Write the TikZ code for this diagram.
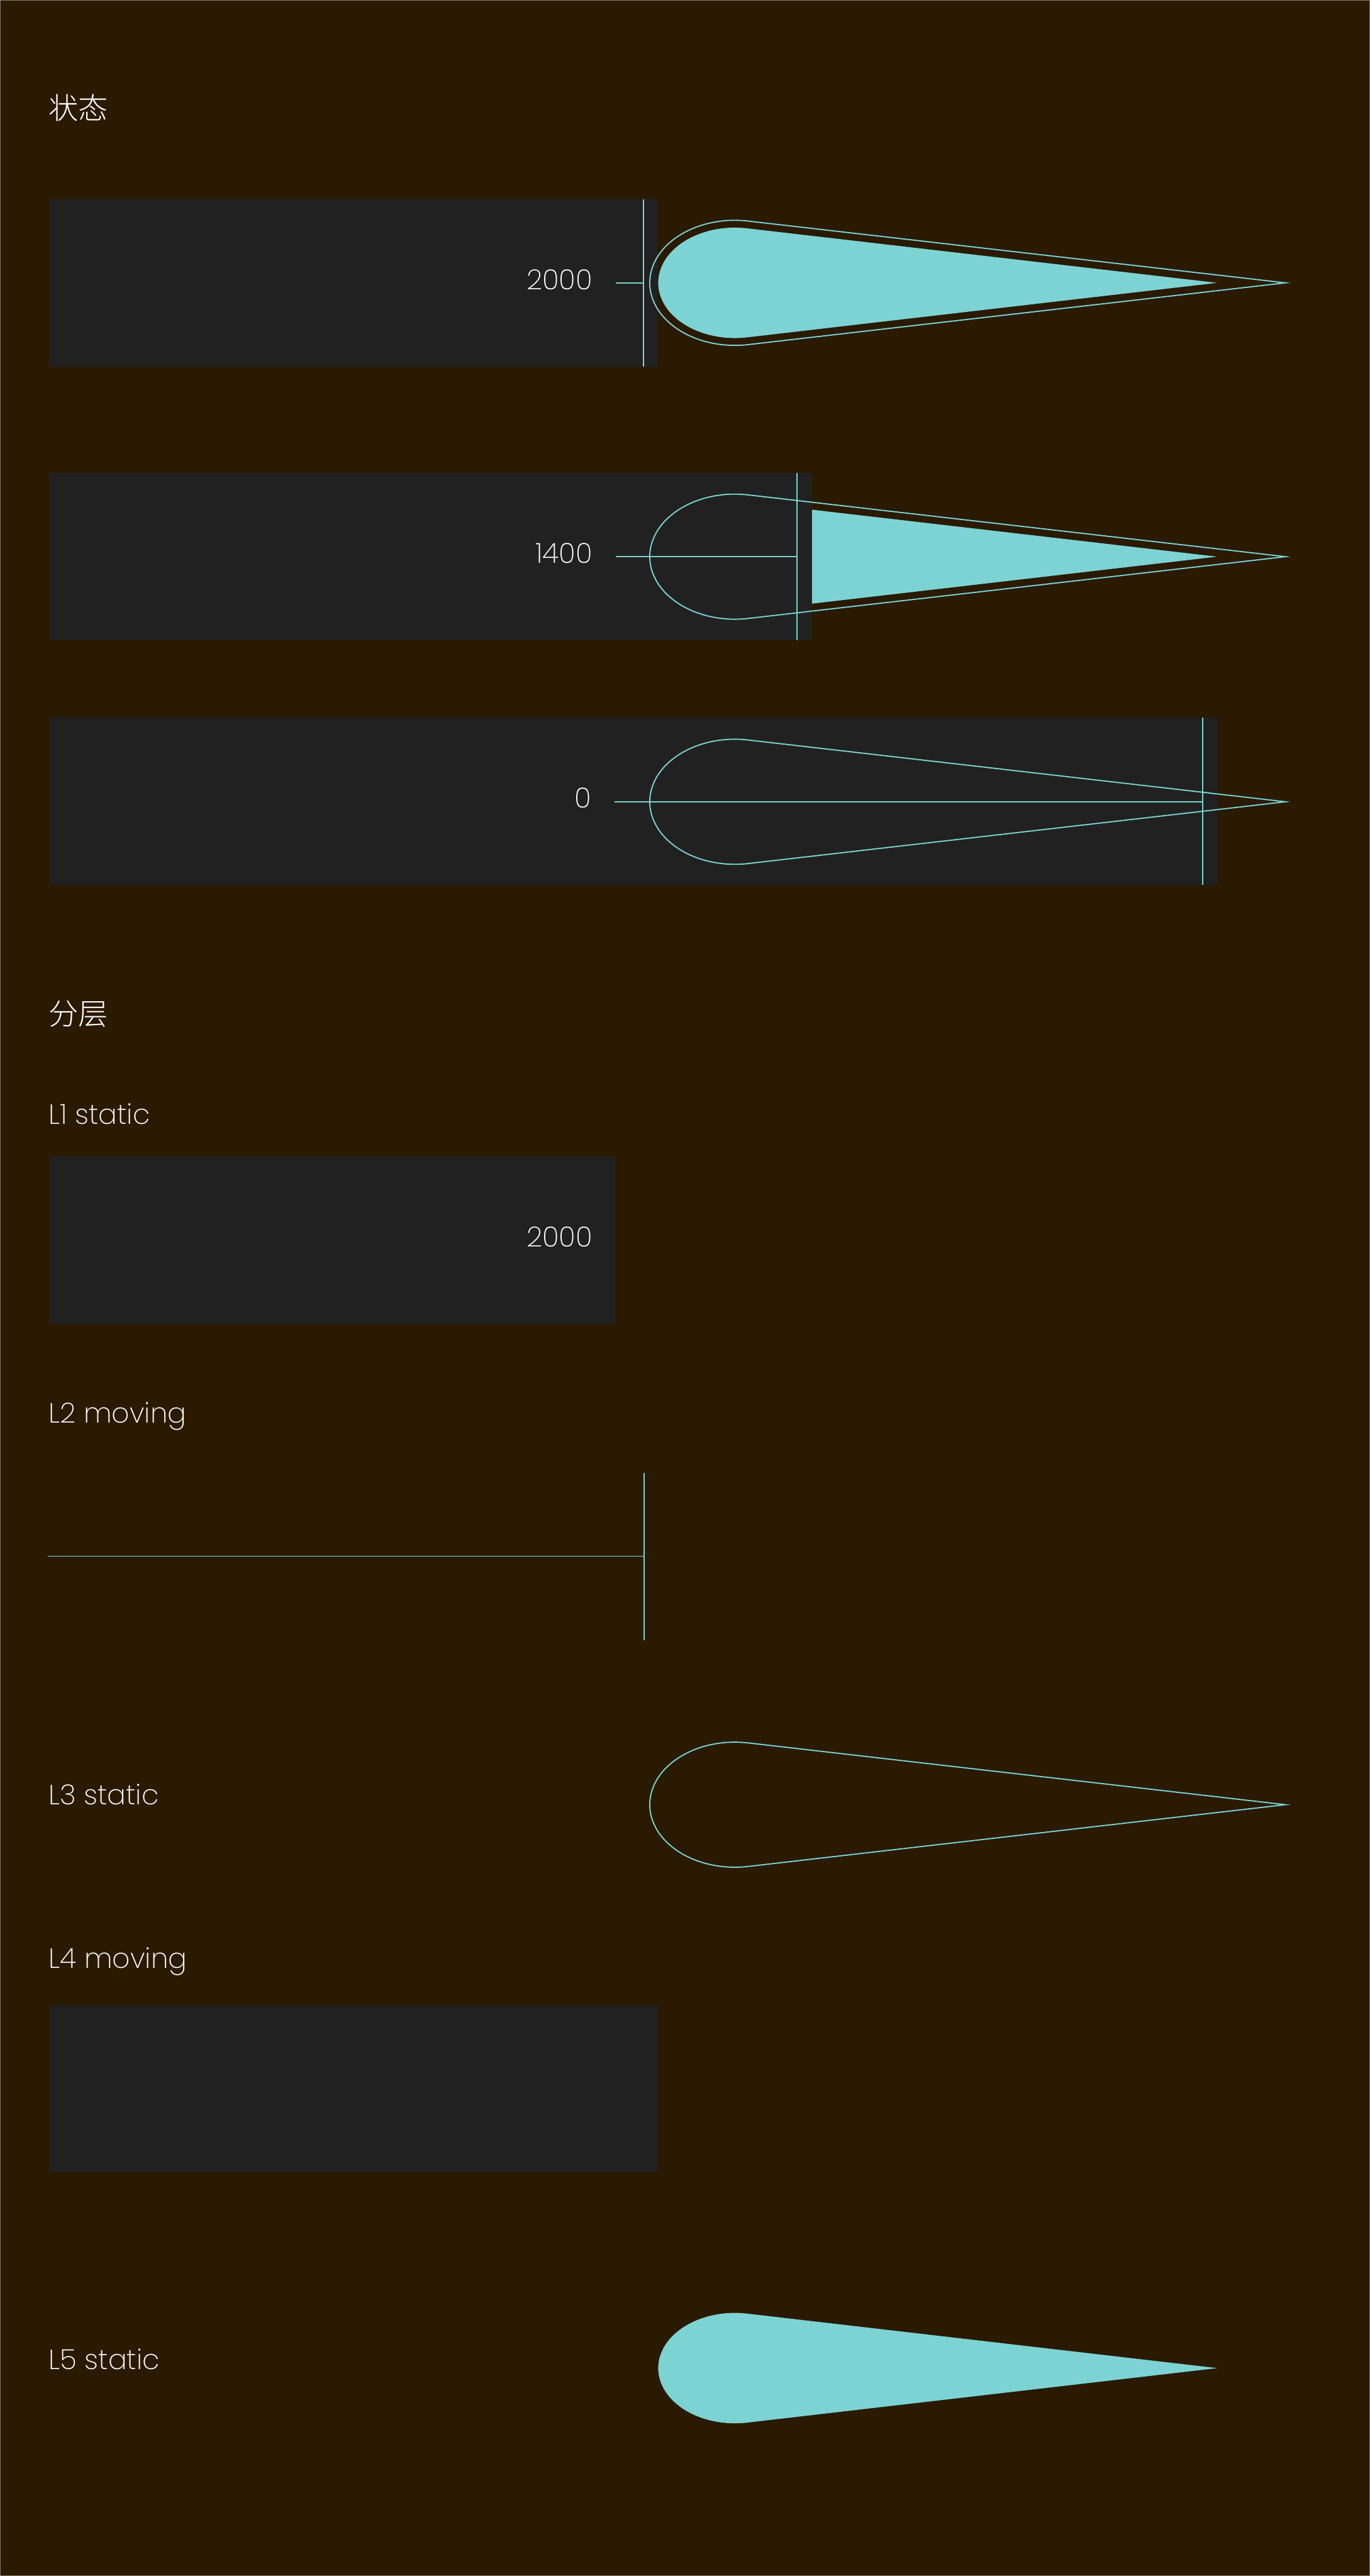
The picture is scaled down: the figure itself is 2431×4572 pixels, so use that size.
\documentclass[tikz,border=0pt]{standalone}
\usepackage{fontspec}
\setmainfont{Poppins}[UprightFont={* ExtraLight}]
\newfontfamily\cjk{Noto Sans CJK SC}[UprightFont={* Light}]
\definecolor{bgbrown}{RGB}{42,26,2}
\definecolor{panel}{RGB}{33,33,33}
\definecolor{aqua}{RGB}{125,211,211}
\definecolor{edge}{RGB}{130,122,110}
\newcommand\dropshape[6]{% #1 options, #2 cx, #3 cy, #4 a, #5 b, #6 tip x
  \pgfmathsetmacro\dT{acos(#4/(#6-#2))}%
  \path[#1] ({#2+#4*cos(\dT)},{#3+#5*sin(\dT)}) arc[start angle=\dT, end angle={360-\dT}, x radius=#4, y radius=#5] -- (#6,#3) -- cycle;}
\begin{document}
\begin{tikzpicture}[x=0.01cm,y=0.01cm,
  panelbox/.style={fill=panel,draw=none},
  guide/.style={draw=aqua,line width=0.6pt},
  outline/.style={draw=aqua,line width=0.6pt,line join=miter,miter limit=20},
  solid drop/.style={fill=aqua,draw=none},
  lab/.style={text=white,font=\fontsize{14}{16}\selectfont,inner sep=0pt,anchor=base west},
  num/.style={text=white,font=\fontsize{14}{16}\selectfont,inner sep=0pt,anchor=base east},
  head/.style={text=white,font=\cjk\fontsize{15}{17}\selectfont,inner sep=0pt,anchor=base west}]
\fill[bgbrown] (0,0) rectangle (2431,-4572);
\useasboundingbox (0,0) rectangle (2431,-4572);
\draw[edge,line width=0.5pt] (0.5,-0.5) rectangle (2430.5,-4571.5);

% ---------- 状态 ----------
\node[head] (t1) at (86,-212) {状态};

% row 1 : 2000
\fill[panelbox] (87,-354) rectangle (1168,-651);
\dropshape{outline}{1304}{-502}{151}{111}{2281}
\dropshape{solid drop}{1304}{-502}{136}{98}{2160}
\draw[guide] (1142,-354) -- (1142,-651);
\draw[guide] (1093,-502) -- (1142,-502);
\node[num] (n1) at (1052,-514) {2000};

% row 2 : 1400
\fill[panelbox] (87,-839) rectangle (1441,-1136);
\dropshape{outline}{1304}{-988}{151}{111}{2281}
\begin{scope}
\clip (1441,-800) rectangle (2431,-1200);
\dropshape{solid drop}{1304}{-988}{136}{98}{2160}
\end{scope}
\draw[guide] (1414,-839) -- (1414,-1136);
\draw[guide] (1093,-988) -- (1414,-988);
\node[num] (n2) at (1052,-1000) {1400};

% row 3 : 0
\fill[panelbox] (87,-1274) rectangle (2160,-1571);
\dropshape{outline}{1304}{-1423}{151}{111}{2281}
\draw[guide] (2134,-1274) -- (2134,-1571);
\draw[guide] (1091,-1423) -- (2134,-1423);
\node[num] (n3) at (1050,-1434) {0};

% ---------- 分层 ----------
\node[head] (t2) at (86,-1819) {分层};

\node[lab] (l1) at (86,-1995) {L1 static};
\fill[panelbox] (87,-2053) rectangle (1092,-2350);
\node[num] (n4) at (1052,-2213) {2000};

\node[lab] (l2) at (86,-2525) {L2 moving};
\draw[guide] (1143,-2614) -- (1143,-2911);
\draw[guide] (85,-2762) -- (1143,-2762);

\node[lab] (l3) at (86,-3203) {L3 static};
\dropshape{outline}{1304}{-3203}{151}{111}{2281}

\node[lab] (l4) at (86,-3493) {L4 moving};
\fill[panelbox] (87,-3559) rectangle (1168,-3855);

\node[lab] (l5) at (86,-4205) {L5 static};
\dropshape{solid drop}{1304}{-4203}{136}{98}{2160}
\end{tikzpicture}
\end{document}
